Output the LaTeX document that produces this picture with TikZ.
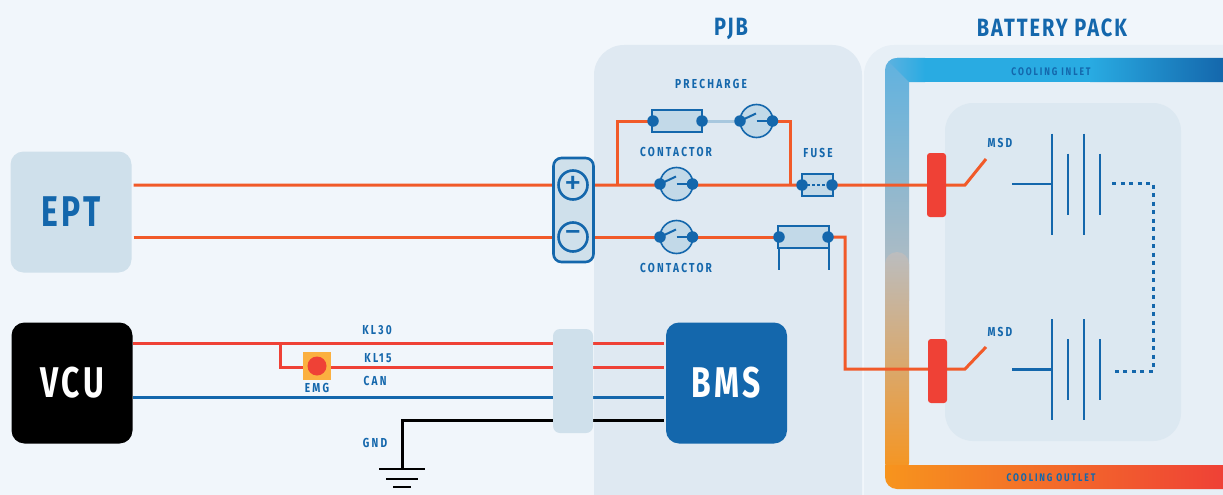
\documentclass[tikz,border=0pt]{standalone}
\usepackage{fontspec}
\setmainfont{Fira Sans}
\newfontfamily\lab[LetterSpace=17,FakeStretch=0.78]{Fira Sans}
\newfontfamily\headfont[LetterSpace=8,FakeStretch=0.8]{Fira Sans}
\newfontfamily\ecufont[LetterSpace=8,FakeStretch=0.74]{Fira Sans}
\usetikzlibrary{calc}
\definecolor{pagebg}{HTML}{F1F6FB}
\definecolor{pjbbg}{HTML}{DFE9F2}
\definecolor{packbg}{HTML}{E7EFF6}
\definecolor{innerbg}{HTML}{DCE8F1}
\definecolor{boxbg}{HTML}{CFE0EB}
\definecolor{partbg}{HTML}{C2D9E8}
\definecolor{navy}{HTML}{1467AC}
\definecolor{wireor}{HTML}{F15A29}
\definecolor{wirered}{HTML}{EF4136}
\definecolor{emgbg}{HTML}{FBB040}
\definecolor{cyanb}{HTML}{29ABE2}
\definecolor{greyb}{HTML}{BBBDBF}
\definecolor{orangeb}{HTML}{F7941D}
\definecolor{cornerb}{HTML}{5FB2E0}
\pgfdeclarelayer{panels}
\pgfdeclarelayer{wires}
\pgfsetlayers{panels,wires,main}
\tikzset{
  x=1pt,y=-1pt,
  headtext/.style={font=\headfont\bfseries\fontsize{25}{25}\selectfont,text=navy,inner sep=0},
  tag/.style={font=\lab\bfseries\fontsize{13}{13}\selectfont,text=navy,inner sep=0},
  smalltag/.style={font=\lab\bfseries\fontsize{11}{11}\selectfont,text=navy,inner sep=0},
  ecu/.style={font=\ecufont\bfseries\fontsize{43}{43}\selectfont,rounded corners=13,minimum width=121,minimum height=121,inner sep=0,text=white},
  wireo/.style={draw=wireor,line width=3},
  wirer/.style={draw=wirered,line width=3},
  wireb/.style={draw=navy,line width=3},
  wirek/.style={draw=black,line width=3},
  termdot/.style={circle,fill=navy,minimum size=11.5,inner sep=0},
  swbody/.style={circle,draw=navy,fill=partbg,line width=1.6,minimum size=33,inner sep=0},
  partbox/.style={draw=navy,fill=partbg,line width=2,minimum width=50,minimum height=22,inner sep=0},
  partline/.style={draw=navy,line width=2},
  plate/.style={draw=navy,line width=2.8},
  breaker/.style={fill=wirered,rounded corners=3,minimum width=19,minimum height=64,inner sep=0},
  pole/.style={circle,draw=navy,line width=2.6,minimum size=29,inner sep=0,text=navy,font=\fontsize{35}{35}\selectfont},
}
\newcommand{\switchsym}[3]{% name, x, y
  \node[swbody] (#1) at (#2,#3) {};
  \node[termdot] (#1L) at ($(#2,#3)+(-16.5,0)$) {};
  \node[termdot] (#1R) at ($(#2,#3)+(16,0)$) {};
  \draw[partline] (#1L.center) -- ++(16,-7.5);
  \draw[partline] (#1.center) -- (#1R.center);
}
\newcommand{\cellstack}[2]{% name, y
  \coordinate (#1a) at (1012,#2);
  \coordinate (#1b) at (1052,#2);
  \draw[plate] (#1a) -- (#1b);
  \draw[plate] (1052,#2-50.5) -- (1052,#2+50.5);
  \draw[plate] (1068,#2-30.5) -- (1068,#2+30.5);
  \draw[plate] (1084,#2-50.5) -- (1084,#2+50.5);
  \draw[plate] (1100,#2-30.5) -- (1100,#2+30.5);
}
\begin{document}
\begin{tikzpicture}
\useasboundingbox (0,0) rectangle (1223,495);
\begin{pgfonlayer}{panels}
  \fill[pagebg] (0,0) rectangle (1223,495);
  \fill[pjbbg,rounded corners=30] (594,45) rectangle (862,530);
  \fill[packbg,rounded corners=30] (864,45) rectangle (1280,530);
  \begin{scope}
    \clip[rounded corners=12] (1240,58) -- (885,58) -- (885,489) -- (1240,489) -- (1240,465) [sharp corners] -- (909,465) -- (909,82) -- (1240,82) -- cycle;
    \shade[top color=cornerb,bottom color=greyb] (885,58) rectangle (909,300);
    \begin{scope}
      \clip (885,58) -- (935,58) -- (935,82) -- (909,82) -- cycle;
      \shade[left color=cornerb,right color=cyanb] (885,58) rectangle (925,82);
      \fill[cyanb] (925,58) rectangle (935,82);
    \end{scope}
    \fill[cyanb] (935,58) rectangle (1090,82);
    \shade[left color=cyanb,right color=navy] (1090,58) rectangle (1223,82);
    \shade[top color=greyb,bottom color=orangeb,rounded corners=12] (885,252) rectangle (909,475);
    \shade[left color=orangeb,right color=wirered] (885,465) rectangle (1223,489);
  \end{scope}
  \fill[innerbg,rounded corners=28] (945,103) rectangle (1181,441);
\end{pgfonlayer}

\node[headtext] (tpjb) at (731,28.5) {PJB};
\node[headtext] (tpack) at (1052,27.5) {BATTERY PACK};

\node[ecu,fill=boxbg,text=navy] (ept) at (71,212) {EPT};
\node[ecu,fill=black] (vcu) at (72,383) {VCU};
\node[ecu,fill=navy] (bms) at (726.5,383) {BMS};

\node[draw=navy,fill=boxbg,line width=2.6,rounded corners=8,minimum width=40,minimum height=104,inner sep=0] (conn) at (573.5,210) {};
\node[pole] (plus) at (573,185) {+};
\node[pole] (minus) at (573,237) {−};
\node[fill=boxbg,rounded corners=7,minimum width=40,minimum height=104,inner sep=0] (junc) at (573,381) {};

% precharge
\node[partbox] (pre) at (677,121) {};
\node[termdot] (preL) at (653,121) {};
\node[termdot] (preR) at (702,121) {};
\switchsym{sp}{756.5}{121}
\switchsym{sm}{676.5}{184}
\switchsym{sn}{676.5}{237}
\node[partbox,minimum width=31] (fuse) at (817.5,185) {};
\node[termdot] (fuseL) at (802,185) {};
\node[termdot] (fuseR) at (832,185) {};
\draw[navy,line width=1.5,dash pattern=on 3pt off 2pt] (fuseL.center) -- (fuseR.center);
\node[partbox,minimum width=51] (shunt) at (803.5,237) {};
\node[termdot] (shuntL) at (779,237) {};
\node[termdot] (shuntR) at (828,237) {};
\coordinate (legA) at (778.5,270);
\coordinate (legB) at (829,270);
\draw[partline] (legA |- shunt.south) -- (legA);
\draw[partline] (legB |- shunt.south) -- (legB);

\node[breaker] (brk1) at (936.5,185) {};
\node[breaker] (brk2) at (937.5,371) {};

% wires
\coordinate (kneeA) at (617,185);
\coordinate (kneeB) at (790,185);
\coordinate (msd1h) at (965,185);
\coordinate (msd1t) at (986,159);
\coordinate (msd2h) at (965,369);
\coordinate (msd2t) at (986,347);
\coordinate (kl15k) at (280,343);
\coordinate (gndk) at (402,469);
\coordinate (bmsA) at (664,343);
\coordinate (bmsB) at (664,367);
\coordinate (bmsC) at (664,397);
\coordinate (bmsD) at (664,420.5);
\begin{pgfonlayer}{wires}
  \draw[wireo] ([xshift=2]ept.east |- plus) -- (msd1h) -- (msd1t);
  \draw[wireo] ([xshift=2]ept.east |- minus) -- (shuntL.center);
  \draw[wireo] (kneeA) |- (preL.center);
  \draw[wireo] (spR.center) -| (kneeB);
  \draw[draw=partbg!85!navy,line width=3] (preR.center) -- (spL.center);
  \draw[wireo] (shuntR.center) -| (845,369) -- (msd2h) -- (msd2t);
  \draw[wirer] (vcu.east |- bmsA) -- (bmsA);
  \draw[wirer] (kl15k) |- (bmsB);
  \draw[wireb] (vcu.east |- bmsC) -- (bmsC);
  \draw[wirek] (bmsD) -| (gndk);
\end{pgfonlayer}

\node[fill=emgbg,minimum size=28,inner sep=0] (emg) at (317,366) {};
\node[circle,fill=wirered,minimum size=19,inner sep=0] (emgb) at (317,366) {};

% ground
\draw[black,line width=2.5] (379,469) -- (425,469);
\draw[black,line width=2.5] (386,479) -- (418,479);
\draw[black,line width=2.5] (393,487) -- (411,487);

% batteries
\cellstack{u}{184}
\cellstack{l}{369.5}
\coordinate (dA) at (1112,183);
\coordinate (dB) at (1153,183);
\coordinate (dC) at (1153,371);
\coordinate (dD) at (1112,371);
\draw[navy,line width=3,dash pattern=on 4pt off 4.5pt] (dA) -- (dB) -- (dC) -- (dD);

% labels
\node[tag] (l1) at (711,84) {PRECHARGE};
\node[tag] (l2) at (676,152) {CONTACTOR};
\node[tag] (l3) at (676,268) {CONTACTOR};
\node[tag] (l4) at (818,153) {FUSE};
\node[tag] (l5) at (1000,143) {MSD};
\node[tag] (l6) at (1000,332) {MSD};
\node[tag] (l7) at (377,330) {KL30};
\node[tag] (l8) at (378,358) {KL15};
\node[tag] (l9) at (375,381) {CAN};
\node[tag] (l10) at (375,443) {GND};
\node[tag] (l11) at (317,388) {EMG};
\node[smalltag] (l12) at (1051,72) {COOLING INLET};
\node[smalltag] (l13) at (1051,478) {COOLING OUTLET};
\end{tikzpicture}
\end{document}
